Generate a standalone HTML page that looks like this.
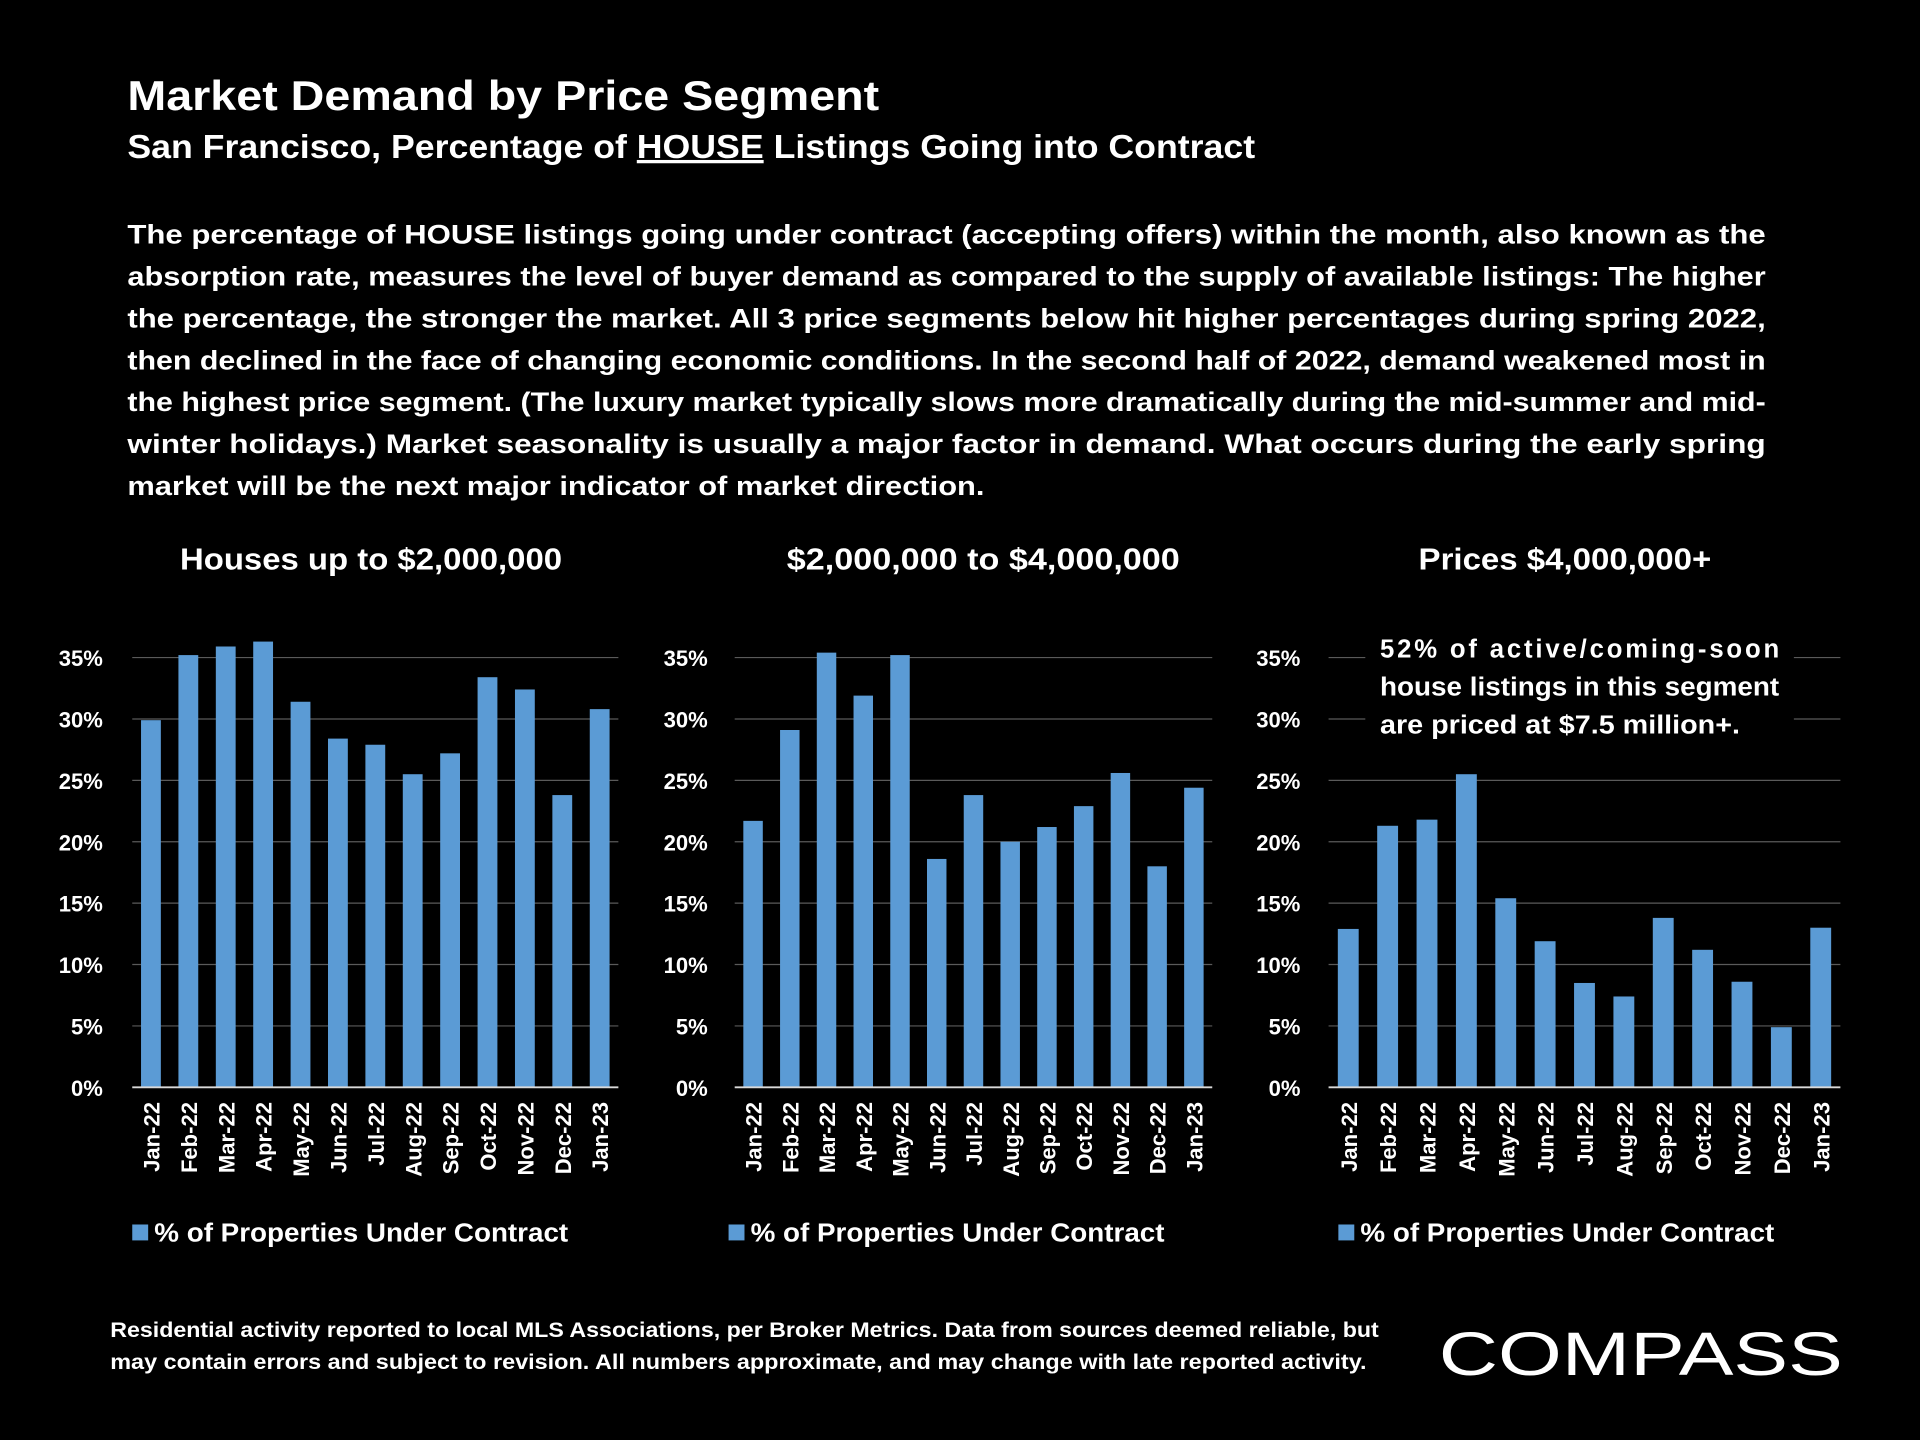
<!DOCTYPE html>
<html><head><meta charset="utf-8"><style>
html,body{margin:0;padding:0;background:#000;width:1920px;height:1440px;overflow:hidden}
svg{display:block}
text{font-family:"Liberation Sans",sans-serif;font-weight:bold;fill:#fff}
</style></head><body>
<svg id="s" width="1920" height="1440" viewBox="0 0 1568 1176" xmlns="http://www.w3.org/2000/svg">
<rect width="1568" height="1176" fill="#000"/>
<text x="104" y="90" font-size="34" textLength="614" lengthAdjust="spacingAndGlyphs">Market Demand by Price Segment</text>
<text x="104" y="129" font-size="27" textLength="921" lengthAdjust="spacingAndGlyphs">San Francisco, Percentage of <tspan text-decoration="underline">HOUSE</tspan> Listings Going into Contract</text>
<g id="para"></g>
<g id="charts"></g>
<text x="90" y="1092" font-size="17.5" textLength="1036" lengthAdjust="spacingAndGlyphs">Residential activity reported to local MLS Associations, per Broker Metrics. Data from sources deemed reliable, but</text>
<text x="90" y="1118" font-size="17.5" textLength="1026" lengthAdjust="spacingAndGlyphs">may contain errors and subject to revision. All numbers approximate, and may change with late reported activity.</text>
<text x="1175" y="1123" font-size="50" style="font-weight:normal" textLength="330" lengthAdjust="spacingAndGlyphs">COMPASS</text>
</svg>
<script>
const months=["Jan-22","Feb-22","Mar-22","Apr-22","May-22","Jun-22","Jul-22","Aug-22","Sep-22","Oct-22","Nov-22","Dec-22","Jan-23"];
const seriesLow=[29.9,35.2,35.9,36.3,31.4,28.4,27.9,25.5,27.2,33.4,32.4,23.8,30.8];
const seriesMid=[21.7,29.1,35.4,31.9,35.2,18.6,23.8,20.0,21.2,22.9,25.6,18.0,24.4];
const seriesHigh=[12.9,21.3,21.8,25.5,15.4,11.9,8.5,7.4,13.8,11.2,8.6,4.9,13.0];
const yTicks=[0,5,10,15,20,25,30,35];
const chartTitles=["Houses up to $2,000,000","$2,000,000 to $4,000,000","Prices $4,000,000+"];
const legendLabel="% of Properties Under Contract";
const paraLines=["The percentage of HOUSE listings going under contract (accepting offers) within the month, also known as the","absorption rate, measures the level of buyer demand as compared to the supply of available listings:  The higher","the percentage, the stronger the market. All 3 price segments below hit higher percentages during spring 2022,","then declined in the face of changing economic conditions. In the second half of 2022, demand weakened most in","the highest price segment. (The luxury market typically slows more dramatically during the mid-summer and mid-","winter holidays.) Market seasonality is usually a major factor in demand. What occurs during the early spring","market will be the next major indicator of market direction."];

const NS="http://www.w3.org/2000/svg";
function mk(tag,attrs,parent,txt){const e=document.createElementNS(NS,tag);for(const k in attrs)e.setAttribute(k,attrs[k]);if(txt!==undefined)e.textContent=txt;parent.appendChild(e);return e;}
const para=document.getElementById('para');
paraLines.forEach((l,i)=>{
  const a={x:104,y:199+i*34.2,"font-size":22};
  if(i<paraLines.length-1){a.textLength=1338;a.lengthAdjust="spacingAndGlyphs";}
  else{a.textLength=700;a.lengthAdjust="spacingAndGlyphs";}
  const t=mk('text',a,para,l);
  
  
});
const charts=document.getElementById('charts');
const cfg=[
 {data:seriesLow,x0:108,x1:505,yl:84,tc:303,lg:108,tw:312},
 {data:seriesMid,x0:600,x1:990,yl:578,tc:803,lg:595,tw:321},
 {data:seriesHigh,x0:1085,x1:1503,yl:1062,tc:1278,lg:1093,tw:239}
];
const y0=888,yTop=537,vMax=35;
cfg.forEach((c,ci)=>{
  const g=mk('g',{},charts);
  
  
  const ys=v=>y0-(v/vMax)*(y0-yTop);
  const step=(c.x1-c.x0)/months.length;
  const xs=i=>c.x0+step*(i+0.5);
  const bw=step*0.53;
  const tt=mk('text',{x:c.tc-c.tw/2,y:465,"font-size":25,textLength:c.tw,lengthAdjust:"spacingAndGlyphs"},g,chartTitles[ci]);
  
  
  yTicks.forEach(v=>{
    if(v>0){const gl=mk('line',{x1:c.x0,x2:c.x1,y1:ys(v),y2:ys(v),stroke:"#5a5a5a","stroke-width":1},g);
    
    }
    const tl=mk('text',{x:c.yl,y:ys(v)+7,"font-size":18,"text-anchor":"end"},g,v+"%");
    
    
  });
  if(ci===2){
    const bg=mk('rect',{x:1115,y:510,width:350,height:100,fill:"#000"},g);
    
    
    const an=mk('g',{},g);
    
    
    mk('text',{x:1127,y:537,"font-size":21,textLength:326,lengthAdjust:"spacing"},an,"52% of active/coming-soon");
    mk('text',{x:1127,y:568,"font-size":21,textLength:326,lengthAdjust:"spacingAndGlyphs"},an,"house listings in this segment");
    mk('text',{x:1127,y:599,"font-size":21,textLength:294,lengthAdjust:"spacingAndGlyphs"},an,"are priced at $7.5 million+.");
  }
  c.data.forEach((v,i)=>{
    const b=mk('rect',{x:xs(i)-bw/2,y:ys(v),width:bw,height:y0-ys(v),fill:"#5b9bd5"},g);
    
    
    const xl=mk('text',{x:0,y:0,"font-size":18,"text-anchor":"end",transform:`translate(${xs(i)+7},${900}) rotate(-90)`},g,months[i]);
    
    
  });
  const ax=mk('line',{x1:c.x0,x2:c.x1,y1:y0,y2:y0,stroke:"#d9d9d9","stroke-width":1.5},g);
  
  
  const lg=mk('g',{},g);
  
  
  mk('rect',{x:c.lg,y:1000,width:13,height:13,fill:"#5b9bd5"},lg);
  mk('text',{x:c.lg+18,y:1014,"font-size":21,textLength:338,lengthAdjust:"spacingAndGlyphs"},lg,legendLabel);
});
</script>
</body></html>
